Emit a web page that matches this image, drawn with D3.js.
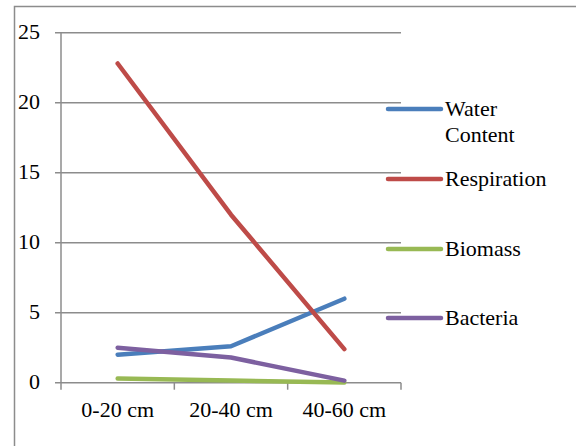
<!DOCTYPE html>
<html>
<head>
<meta charset="utf-8">
<script src="https://cdn.jsdelivr.net/npm/d3@7"></script>
<style>
  svg text { font-family: "Liberation Serif", serif !important; }
</style>
</head>
<body style="margin:0; background:#fff">
<svg id="chart" width="576" height="446" style="display:block; font-family: 'Liberation Serif', serif"></svg>
<script>
// Soil profile measurements by depth
const depths = ["0-20 cm", "20-40 cm", "40-60 cm"];
const seriesNames = ["Water Content", "Respiration", "Biomass", "Bacteria"];
const seriesColors = ["#4A7EBB", "#BE4B48", "#98B954", "#7D60A0"];
const waterContent = [2.0, 2.6, 6.0];
const respiration = [22.8, 12.0, 2.4];
const biomass = [0.3, 0.15, 0.02];
const bacteria = [2.5, 1.8, 0.15];
const yTicks = [0, 5, 10, 15, 20, 25];

const seriesValues = [waterContent, respiration, biomass, bacteria];

const FONT = "serif";
const FONT_SIZE = 22;

const svg = d3.select("#chart");
const plot = { left: 61, right: 401, top: 32.7, bottom: 382.7 };
const gridColor = "#8c8c8c";

// Outer frame (only the left and top edges fall within the view)
svg.append("path")
  .attr("d", "M14.5,446 V6.5 H576")
  .attr("fill", "none")
  .attr("stroke", gridColor)
  .attr("stroke-width", 1.5);

const x = d3.scaleBand().domain(depths).range([plot.left, plot.right]);
const y = d3.scaleLinear().domain([0, 25]).range([plot.bottom, plot.top]);

// Horizontal gridlines, drawn as plain lines from the y scale
const grid = svg.append("g");
grid.selectAll("line").data(yTicks).join("line")
  .attr("x1", plot.left - 6).attr("x2", plot.right)
  .attr("y1", d => y(d)).attr("y2", d => y(d))
  .attr("stroke", gridColor).attr("stroke-width", 1.5);
grid.append("line")
  .attr("x1", plot.left).attr("x2", plot.left)
  .attr("y1", y(25)).attr("y2", y(0))
  .attr("stroke", gridColor).attr("stroke-width", 1.5);
grid.selectAll("text").data(yTicks).join("text")
  .attr("x", plot.left - 21)
  .attr("y", d => y(d))
  .attr("dy", "0.3em")
  .attr("text-anchor", "end")
  .attr("font-family", FONT)
  .attr("font-size", FONT_SIZE)
  .attr("fill", "#000")
  .text(d => d);

// Category axis with ticks at band boundaries
const xg = svg.append("g").attr("transform", `translate(0,${plot.bottom})`);
const boundaries = depths.map(d => x(d)).concat([plot.right]);
xg.selectAll("line.tk").data(boundaries).join("line")
  .attr("class", "tk")
  .attr("x1", d => d).attr("x2", d => d)
  .attr("y1", 0).attr("y2", 7)
  .attr("stroke", gridColor).attr("stroke-width", 1.5);
xg.selectAll("text").data(depths).join("text")
  .attr("x", d => x(d) + x.bandwidth() / 2)
  .attr("y", 34)
  .attr("text-anchor", "middle")
  .attr("font-family", FONT)
  .attr("font-size", FONT_SIZE)
  .attr("fill", "#000")
  .text(d => d);

// Series lines
const line = d3.line()
  .x((d, i) => x(depths[i]) + x.bandwidth() / 2)
  .y(d => y(d));

svg.append("g").selectAll("path")
  .data(seriesValues)
  .join("path")
  .attr("d", d => line(d))
  .attr("fill", "none")
  .attr("stroke", (d, i) => seriesColors[i])
  .attr("stroke-width", 4.5)
  .attr("stroke-linecap", "round")
  .attr("stroke-linejoin", "round");

// Legend
const legendY = [109, 179, 249, 318];
const legend = svg.append("g");
seriesNames.forEach((name, i) => {
  const g = legend.append("g").attr("transform", `translate(0,${legendY[i]})`);
  g.append("line")
    .attr("x1", 388).attr("x2", 441)
    .attr("stroke", seriesColors[i])
    .attr("stroke-width", 4.5)
    .attr("stroke-linecap", "round");
  name.split(" ").forEach((w, j) => {
    g.append("text")
      .attr("x", 445)
      .attr("y", 7 + j * 26)
      .attr("font-family", FONT)
      .attr("font-size", FONT_SIZE)
      .attr("fill", "#000")
      .text(w);
  });
});
</script>
</body>
</html>
